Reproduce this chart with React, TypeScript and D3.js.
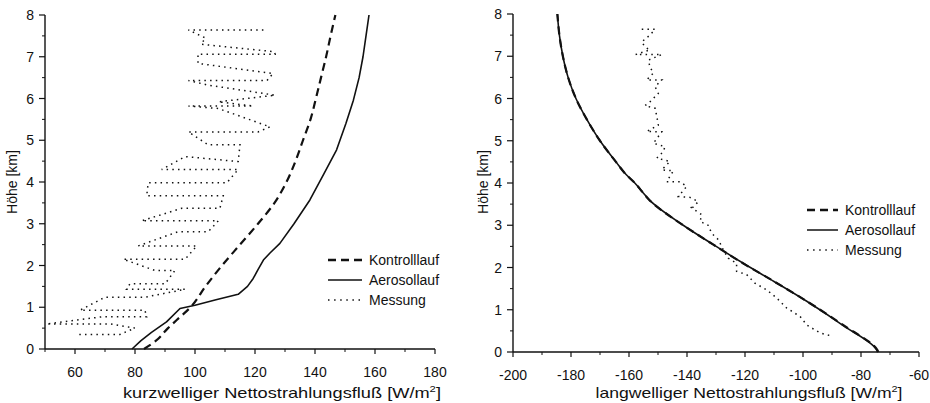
import React from "react";
import * as d3 from "d3";

// ---------- data ----------
const heightTicks = [0, 1, 2, 3, 4, 5, 6, 7, 8];
const swTicks = [60, 80, 100, 120, 140, 160, 180];
const lwTicks = [-200, -180, -160, -140, -120, -100, -80, -60];
const legendLabels = ["Kontrolllauf", "Aerosollauf", "Messung"];

// shortwave (left) [flux, height km]
const swKontrolllauf: [number, number][] = [
  [83, 0], [87, 0.2], [91, 0.5], [94, 0.7], [98.5, 1.0], [103.5, 1.5], [109, 2.0],
  [115, 2.5], [121, 3.0], [126.5, 3.5], [130.5, 4.0], [133.5, 4.5], [136, 5.0],
  [138.5, 5.5], [140.3, 6.0], [142, 6.5], [143.7, 7.0], [145.2, 7.5], [146.8, 8.0],
];
const swAerosollauf: [number, number][] = [
  [79, 0], [82, 0.2], [85.5, 0.4], [90.5, 0.65], [95, 0.97], [100, 1.05], [107, 1.18],
  [114.4, 1.31], [117.5, 1.5], [119.4, 1.69], [121, 1.9], [122.8, 2.13], [125, 2.3],
  [128.3, 2.53], [133, 3.0], [138.3, 3.57], [143, 4.2], [147.2, 4.77], [150.3, 5.4],
  [152.8, 5.96], [154.7, 6.5], [156, 7.0], [157, 7.5], [158, 8.0],
];
const swMessung: [number, number][] = [
  [122.8, 7.64], [97.8, 7.64], [103.5, 7.45], [102, 7.3], [126.5, 7.12], [126.7, 7.06],
  [101, 7.06], [101, 6.84], [126, 6.6], [124, 6.43], [97.8, 6.43], [104.4, 6.32],
  [126.7, 6.08], [107.8, 5.92], [119.4, 5.82], [97.8, 5.82], [107.8, 5.76], [125, 5.32],
  [121, 5.2], [97.8, 5.2], [104.4, 4.89], [115, 4.89], [114.4, 4.49], [96.7, 4.61],
  [88.9, 4.3], [114.4, 4.3], [110.6, 3.98], [84.4, 3.98], [83.9, 3.67], [109.4, 3.67],
  [108.3, 3.37], [95.6, 3.37], [82.2, 3.07], [107.8, 3.07], [104.4, 2.81], [94.4, 2.81],
  [81.1, 2.47], [100.6, 2.47], [96.7, 2.15], [76.1, 2.15], [86.7, 1.88], [93.3, 1.88],
  [90, 1.56], [78.3, 1.56], [77.2, 1.43], [96.7, 1.43], [83.3, 1.24], [70, 1.24],
  [61.7, 0.93], [83.3, 0.93], [83.9, 0.77], [68.9, 0.77], [50.5, 0.6], [72, 0.6],
  [80, 0.5], [75, 0.35], [61.1, 0.35],
];

// longwave (right)
const lwAerosollauf: [number, number][] = [
  [-74.3, 0], [-74.6, 0.05], [-86, 0.62], [-98.7, 1.2], [-110, 1.67], [-120.6, 2.1],
  [-130.9, 2.54], [-141.3, 3.0], [-153, 3.6], [-155.5, 3.8], [-158, 4.0], [-161, 4.2],
  [-164.5, 4.5], [-170, 5.0], [-174.5, 5.5], [-178.3, 6.0], [-181, 6.5], [-182.8, 7.0],
  [-184, 7.5], [-184.7, 8.0],
];
const lwKontrolllauf: [number, number][] = [
  [-74.0, 0], [-74.4, 0.05], [-86.2, 0.64], [-98.9, 1.21], [-110.2, 1.68], [-120.7, 2.1],
  [-130.9, 2.54], [-141.3, 3.0], [-153, 3.6], [-155.5, 3.8], [-158, 4.0], [-161, 4.2],
  [-164.5, 4.5], [-170, 5.0], [-174.5, 5.5], [-178.3, 6.0], [-181, 6.5], [-182.8, 7.0],
  [-184, 7.5], [-184.7, 8.0],
];
const lwMessung: [number, number][] = [
  [-155.6, 7.64], [-151.0, 7.64], [-152.8, 7.5], [-155.6, 7.34], [-154.5, 7.22],
  [-152.8, 7.15], [-157.7, 7.04], [-148.7, 7.04], [-153.3, 6.91], [-152.8, 6.75],
  [-151.6, 6.6], [-153.9, 6.44], [-148.7, 6.44], [-151.0, 6.28], [-149.9, 6.12],
  [-152.8, 5.92], [-154.5, 5.83], [-151.0, 5.77], [-150.4, 5.57], [-149.9, 5.37],
  [-153.9, 5.22], [-148.7, 5.21], [-151.6, 4.94], [-147.6, 4.86], [-148.2, 4.74],
  [-150.4, 4.59], [-145.9, 4.51], [-148.7, 4.31], [-144.7, 4.29], [-147, 4.03],
  [-142.4, 4.03], [-140.1, 3.92], [-143.0, 3.68], [-139, 3.66], [-136.1, 3.56],
  [-138.3, 3.4], [-139, 3.44], [-134.9, 3.25], [-135.5, 3.09], [-132.7, 3.0],
  [-131.5, 2.81], [-129.2, 2.66], [-127.5, 2.42], [-125.8, 2.22], [-122.9, 2.1],
  [-122.9, 1.91], [-119.4, 1.83], [-116.6, 1.63], [-112.5, 1.47], [-109.1, 1.28],
  [-105.6, 1.04], [-101, 0.84], [-98.7, 0.64], [-94.1, 0.45], [-89.6, 0.37],
];

const FONT = "'Liberation Sans', Arial, Helvetica, sans-serif";
const INK = "#111";

type Panel = {
  x: d3.ScaleLinear<number, number>;
  y: d3.ScaleLinear<number, number>;
  xTicks: number[];
  minorStep: number;
  xTitle: string;
  xTitleX: number;
  xTitleLen: number;
  yTitleX: number;
  kontroll: [number, number][];
  aerosol: [number, number][];
  messung: [number, number][];
  smoothAerosol: boolean;
  legendX: number;
  legendY: number;
  legendLen: number;
  legendGap: number;
};

function ChartPanel({ p }: { p: Panel }) {
  const { x, y } = p;
  const line = d3
    .line<[number, number]>()
    .x((d) => x(d[0]))
    .y((d) => y(d[1]));
  const curve = d3
    .line<[number, number]>()
    .x((d) => x(d[0]))
    .y((d) => y(d[1]))
    .curve(d3.curveMonotoneY);
  const [x0, x1] = x.domain();
  const minors = d3.range(x0, x1 + 0.001, p.minorStep).filter((v) => !p.xTicks.includes(v));
  const yMinors = d3.range(0.5, 8, 1);
  const y0 = y(0);
  const xl = x(x0);
  return (
    <g>
      {/* axes */}
      <line x1={xl} x2={xl} y1={y(8)} y2={y0} stroke={INK} strokeWidth={1.4} />
      <line x1={xl} x2={x(x1)} y1={y0} y2={y0} stroke={INK} strokeWidth={1.4} />
      {heightTicks.map((t) => (
        <g key={"yt" + t}>
          <line x1={xl - 6} x2={xl} y1={y(t)} y2={y(t)} stroke={INK} strokeWidth={1.2} />
          <text x={xl - 11} y={y(t) + 5} textAnchor="end" fontSize={14} fontFamily={FONT} fill={INK}>
            {t}
          </text>
        </g>
      ))}
      {yMinors.map((t) => (
        <line key={"ym" + t} x1={xl - 3} x2={xl} y1={y(t)} y2={y(t)} stroke={INK} strokeWidth={1} />
      ))}
      {p.xTicks.map((t) => (
        <g key={"xt" + t}>
          <line x1={x(t)} x2={x(t)} y1={y0} y2={y0 + 5} stroke={INK} strokeWidth={1.2} />
          <text x={x(t)} y={y0 + 28} textAnchor="middle" fontSize={14} fontFamily={FONT} fill={INK}>
            {t}
          </text>
        </g>
      ))}
      {minors.map((t) => (
        <line key={"xm" + t} x1={x(t)} x2={x(t)} y1={y0} y2={y0 + 3} stroke={INK} strokeWidth={1} />
      ))}
      <text
        x={p.xTitleX}
        y={398}
        textAnchor="middle"
        fontSize={14.5}
        fontFamily={FONT}
        fill={INK}
        textLength={p.xTitleLen}
        lengthAdjust="spacingAndGlyphs"
      >
        {p.xTitle.replace("[W/m²]", "[W/m")}
        <tspan fontSize={9} dy={-6}>2</tspan>
        <tspan dy={6}>]</tspan>
      </text>
      <text
        transform={`translate(${p.yTitleX},182) rotate(-90)`}
        textAnchor="middle"
        fontSize={14}
        fontFamily={FONT}
        fill={INK}
      >
        Höhe [km]
      </text>
      {/* series */}
      <path d={line(p.messung) || ""} fill="none" stroke={INK} strokeWidth={1.5} strokeDasharray="1.5 4.2" />
      <path
        d={(p.smoothAerosol ? curve(p.aerosol) : line(p.aerosol)) || ""}
        fill="none"
        stroke={INK}
        strokeWidth={1.6}
        strokeLinejoin="round"
      />
      <path d={curve(p.kontroll) || ""} fill="none" stroke={INK} strokeWidth={2.2} strokeDasharray="8 5" />
      {/* legend */}
      {legendLabels.map((lab, i) => {
        const ly = p.legendY + i * p.legendGap;
        const dash = i === 0 ? "8 5" : i === 2 ? "1.5 4.6" : undefined;
        const sw = i === 0 ? 2.4 : i === 1 ? 1.5 : 1.5;
        return (
          <g key={lab}>
            <line
              x1={p.legendX}
              x2={p.legendX + p.legendLen}
              y1={ly}
              y2={ly}
              stroke={INK}
              strokeWidth={sw}
              strokeDasharray={dash}
            />
            <text x={p.legendX + p.legendLen + 7} y={ly + 5} fontSize={14} fontFamily={FONT} fill={INK}>
              {lab}
            </text>
          </g>
        );
      })}
    </g>
  );
}

export default function App() {
  const left: Panel = {
    x: d3.scaleLinear().domain([50, 180]).range([45, 435]),
    y: d3.scaleLinear().domain([0, 8]).range([349, 15]),
    xTicks: swTicks,
    minorStep: 10,
    xTitle: "kurzwelliger Nettostrahlungsfluß [W/m²]",
    xTitleX: 282,
    xTitleLen: 318,
    yTitleX: 17,
    kontroll: swKontrolllauf,
    aerosol: swAerosollauf,
    messung: swMessung,
    smoothAerosol: false,
    legendX: 328,
    legendY: 260,
    legendLen: 34,
    legendGap: 20,
  };
  const right: Panel = {
    x: d3.scaleLinear().domain([-200, -60]).range([513, 919]),
    y: d3.scaleLinear().domain([0, 8]).range([352, 14]),
    xTicks: lwTicks,
    minorStep: 10,
    xTitle: "langwelliger Nettostrahlungsfluß [W/m²]",
    xTitleX: 749,
    xTitleLen: 307,
    yTitleX: 488,
    kontroll: lwKontrolllauf,
    aerosol: lwAerosollauf,
    messung: lwMessung,
    smoothAerosol: true,
    legendX: 807,
    legendY: 210,
    legendLen: 31,
    legendGap: 20,
  };
  return (
    <svg
      width={930}
      height={403}
      viewBox="0 0 930 403"
      style={{ position: "absolute", left: 0, top: 0, background: "#fff" }}
    >
      <rect width={930} height={403} fill="#fff" />
      <ChartPanel p={left} />
      <ChartPanel p={right} />
    </svg>
  );
}
